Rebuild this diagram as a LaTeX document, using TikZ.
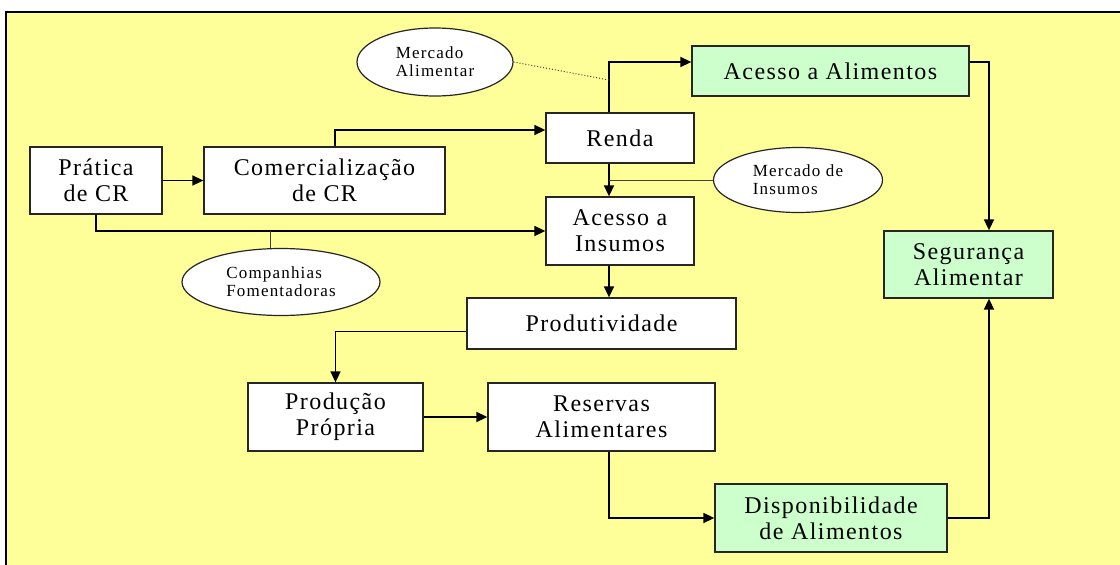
\documentclass[tikz,border=0pt]{standalone}
\usepackage{fontspec}
\setmainfont{Liberation Serif}
\newfontfamily\boxfont[LetterSpace=6]{Liberation Serif}
\newfontfamily\ellfont[LetterSpace=7]{Liberation Serif}
\usetikzlibrary{arrows.meta,shapes.geometric}
\definecolor{bgyellow}{RGB}{255,255,153}
\definecolor{boxgreen}{RGB}{204,255,204}
\tikzset{
  box/.style={draw=black!85, line width=1.3pt, fill=white, align=center, inner sep=0pt,
    font=\boxfont\fontsize{24}{26}\selectfont},
  greenbox/.style={box, fill=boxgreen},
  ell/.style={draw=black!85, line width=1.2pt, fill=white, ellipse, inner sep=0pt, align=left,
    font=\ellfont\fontsize{17}{18}\selectfont},
  arr/.style={draw=black, line width=1.6pt, -{Triangle[length=11pt,width=10pt]}},
  thin/.style={draw=black!75, line width=1pt},
  dotln/.style={draw=black!75, line width=1pt, dotted}
}
\begin{document}
\begin{tikzpicture}[x=1pt,y=-1pt]
\useasboundingbox (0,0) rectangle (1120,565);
\fill[white] (0,0) rectangle (1120,565);
\fill[bgyellow] (6,12) rectangle (1120,565);
\draw[black, line width=1.6pt] (6,565) -- (6,12) -- (1120,12);

% boxes
\node[box, minimum width=132pt, minimum height=67pt] (prat) at (96,180.5) {Prática\\de CR};
\node[box, minimum width=241pt, minimum height=67pt] (com) at (324.5,180.5) {Comercialização\\de CR};
\node[box, minimum width=148pt, minimum height=50pt] (renda) at (620,138) {Renda};
\node[box, minimum width=148pt, minimum height=68pt] (ains) at (620,231) {Acesso a\\Insumos};
\node[greenbox, minimum width=277pt, minimum height=50pt] (aalim) at (830.5,71) {Acesso a Alimentos};
\node[greenbox, minimum width=169pt, minimum height=67pt] (seg) at (968.5,264.5) {Segurança\\Alimentar};
\node[box, minimum width=269pt, minimum height=51pt] (prod) at (601.5,323.5) {Produtividade};
\node[box, minimum width=175pt, minimum height=68pt] (pp) at (335.5,417) {Produção\\Própria};
\node[box, minimum width=227pt, minimum height=68pt] (res) at (601.5,417) {Reservas\\Alimentares};
\node[greenbox, minimum width=232pt, minimum height=68pt] (disp) at (831,518) {Disponibilidade\\de Alimentos};

% ellipses
\node[ell, minimum width=156pt, minimum height=68pt] (ma) at (435,62) {Mercado\\Alimentar};
\node[ell, minimum width=169pt, minimum height=65pt] (mi) at (798,180) {Mercado de\\Insumos};
\node[ell, minimum width=198pt, minimum height=67pt] (cf) at (281,282) {Companhias\\Fomentadoras};

\coordinate (vx) at (609,0);
\coordinate (vr) at (989,0);
\coordinate (dotend) at (609,80);

% connectors
\draw[arr] (prat.east) -- (com.west);
\draw[arr] ([xshift=10.5pt]com.north) |- ([yshift=8pt]renda.west);
\draw[arr] (prat.south) |- (ains.west);
\draw[thin] ([xshift=-11pt]cf.north) -- ([xshift=-11pt]cf.north |- ains.west);
\draw[arr] (renda.north -| vx) |- ([yshift=9pt]aalim.west);
\draw[dotln] (ma.east) -- (dotend);
\draw[arr] (renda.south -| vx) -- (ains.north -| vx);
\draw[thin] (mi.west) -- (mi.west -| vx);
\draw[arr] (ains.south -| vx) -- (prod.north -| vx);
\draw[arr] ([yshift=-8pt]prod.west) -| (pp.north);
\draw[arr] (pp.east) -- (res.west);
\draw[arr] (res.south -| vx) |- (disp.west);
\draw[arr] (disp.east) -| (seg.south -| vr);
\draw[arr] ([yshift=9pt]aalim.east) -| (seg.north -| vr);
\end{tikzpicture}
\end{document}
